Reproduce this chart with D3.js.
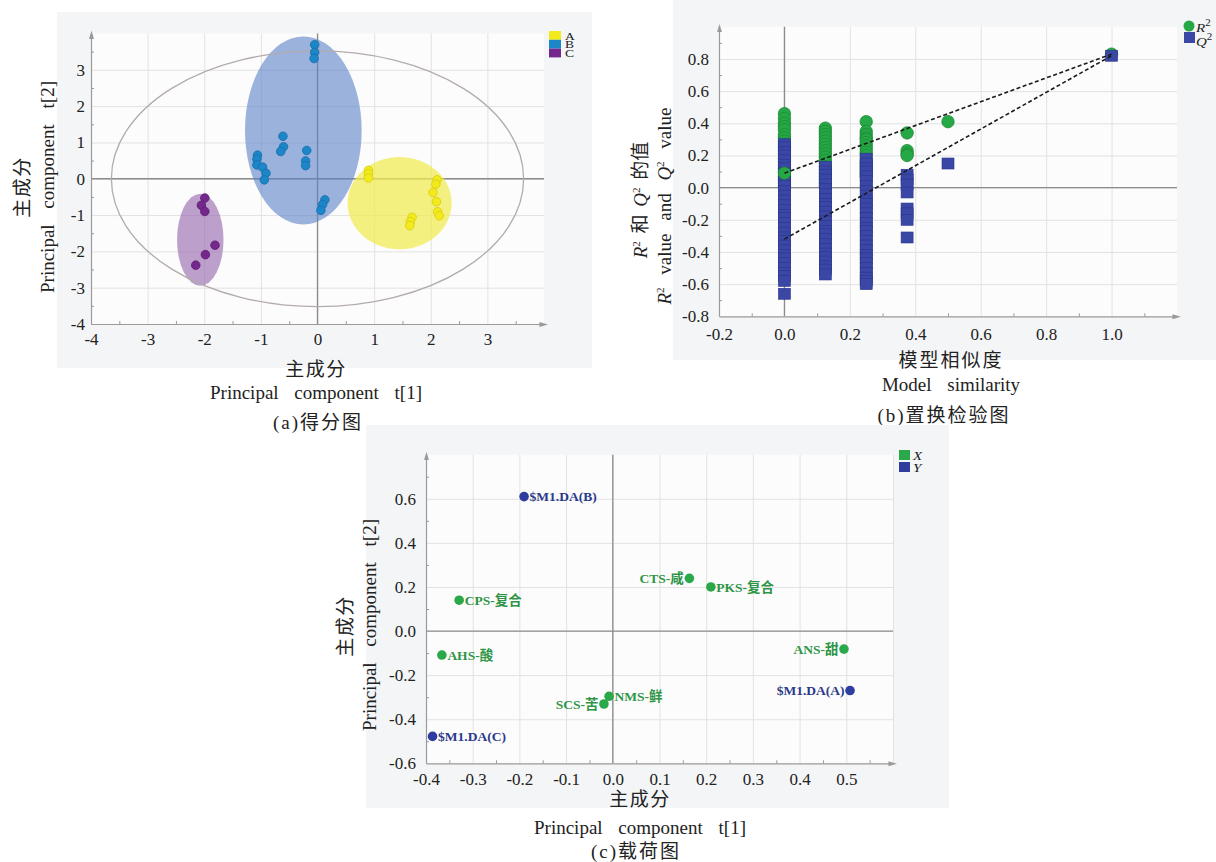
<!DOCTYPE html>
<html lang="zh">
<head>
<meta charset="UTF-8">
<title>得分图 / 置换检验图 / 载荷图</title>
<script src="https://d3js.org/d3.v7.min.js"></script>
<style>
    body { margin: 0; background: #fff; }
    svg text { font-family: "Liberation Serif", "Noto Sans CJK SC", serif; fill: #222; }
    .axis .tick text { font-size: 17px; font-family: "Liberation Serif", serif; }
    .axis .domain { stroke: #9a9a9a; stroke-width: 1.2; }
    .grid line { stroke: #e2e2e2; }
    .grid .domain { display: none; }
    .minor line { stroke: #9a9a9a; }
    .minor .domain { display: none; }
    .title { font-size: 19px; word-spacing: 11px; }
    .lbl { font-size: 13.5px; font-weight: bold; }
</style>
</head>
<body>
<svg id="chart"></svg>
<script>
// ---- (a) 得分图 data ----
const groups = ["A", "B", "C"];
const scoresA = [[0.90, 0.23], [0.90, 0.14], [0.90, 0.02], [2.11, -0.03], [2.09, -0.15], [2.04, -0.38],
                 [2.10, -0.63], [2.12, -0.91], [2.15, -1.02], [1.67, -1.06], [1.64, -1.18], [1.63, -1.29]];
const scoresB = [[-0.05, 3.69], [-0.05, 3.48], [-0.06, 3.31], [-0.61, 1.17], [-0.60, 0.88], [-0.65, 0.75],
                 [-0.19, 0.78], [-0.21, 0.49], [-0.21, 0.36], [-1.06, 0.65], [-1.07, 0.54], [-1.07, 0.38],
                 [-0.97, 0.32], [-0.91, 0.15], [-0.94, -0.03], [0.13, -0.58], [0.09, -0.71], [0.06, -0.87]];
const scoresC = [[-1.99, -0.53], [-2.05, -0.73], [-1.99, -0.90], [-1.81, -1.83], [-1.98, -2.09], [-2.15, -2.38]];
// group ellipses: [cx, cy, rx, ry] in score units
const groupEllipses = [[1.45, -0.67, 0.92, 1.27], [-0.25, 1.33, 1.03, 2.59], [-2.07, -1.68, 0.41, 1.27]];
const hotelling = [0, 0, 3.64, 3.52];
const scoreTicks = [-4, -3, -2, -1, 0, 1, 2, 3];

// ---- (b) 置换检验图 data ----
const similarity = [0, 0.125, 0.25, 0.375, 0.5, 1.0];
const r2Perm = [
    [0.46, 0.43, 0.40, 0.38, 0.36, 0.33, 0.31, 0.29, 0.27, 0.25, 0.23, 0.21, 0.18, 0.16, 0.14, 0.12, 0.10, 0.07, 0.05, 0.03, 0.01],
    [0.37, 0.35, 0.33, 0.31, 0.29, 0.27, 0.25, 0.23, 0.21, 0.19, 0.17, 0.15, 0.13, 0.11, 0.09, 0.07, 0.05, 0.03, 0.01],
    [0.41, 0.35, 0.33, 0.31, 0.30, 0.28, 0.26, 0.24, 0.22, 0.20, 0.17, 0.15, 0.13, 0.11, 0.09, 0.07],
    [0.34, 0.23, 0.21, 0.20],
    [0.41],
    [0.83]
];
const q2Perm = [
    [0.27, 0.25, 0.22, 0.20, 0.17, 0.14, 0.12, 0.09, 0.06, 0.03, 0.01, -0.02, -0.05, -0.08, -0.11, -0.14, -0.17,
     -0.19, -0.22, -0.25, -0.28, -0.31, -0.33, -0.36, -0.39, -0.42, -0.44, -0.47, -0.50, -0.53, -0.55, -0.58, -0.66],
    [0.13, 0.10, 0.08, 0.05, 0.02, -0.01, -0.04, -0.07, -0.10, -0.12, -0.15, -0.18, -0.21, -0.24, -0.27, -0.29,
     -0.32, -0.35, -0.38, -0.41, -0.43, -0.46, -0.49, -0.51, -0.54],
    [0.18, 0.15, 0.12, 0.10, 0.07, 0.04, 0.01, -0.02, -0.05, -0.08, -0.10, -0.13, -0.16, -0.19, -0.22, -0.25,
     -0.27, -0.30, -0.33, -0.36, -0.39, -0.42, -0.44, -0.47, -0.50, -0.53, -0.56, -0.58, -0.60],
    [0.08, 0.05, 0.02, -0.03, -0.13, -0.16, -0.20, -0.31],
    [0.15],
    [0.82]
];
const r2Intercept = 0.09, q2Intercept = -0.32;
const simTicks = [-0.2, 0, 0.2, 0.4, 0.6, 0.8, 1.0];
const valueTicks = [-0.8, -0.6, -0.4, -0.2, 0, 0.2, 0.4, 0.6, 0.8];

// ---- (c) 载荷图 data ----
const xNames = ["CPS-复合", "AHS-酸", "CTS-咸", "PKS-复合", "ANS-甜", "NMS-鲜", "SCS-苦"];
const xLoadT1 = [-0.329, -0.366, 0.164, 0.210, 0.495, -0.008, -0.019];
const xLoadT2 = [0.140, -0.109, 0.239, 0.200, -0.082, -0.296, -0.331];
const yNames = ["$M1.DA(A)", "$M1.DA(B)", "$M1.DA(C)"];
const yLoadT1 = [0.508, -0.190, -0.386];
const yLoadT2 = [-0.270, 0.610, -0.478];
const loadTicksX = [-0.4, -0.3, -0.2, -0.1, 0, 0.1, 0.2, 0.3, 0.4, 0.5];
const loadTicksY = [-0.6, -0.4, -0.2, 0, 0.2, 0.4, 0.6];

// ---- drawing ----
const svg = d3.select("#chart").attr("width", 1216).attr("height", 862);
svg.append("rect").attr("width", 1216).attr("height", 862).attr("fill", "#fff");

svg.append("defs").append("marker")
    .attr("id", "arrow").attr("viewBox", "0 0 10 10")
    .attr("refX", 6).attr("refY", 5)
    .attr("markerWidth", 7).attr("markerHeight", 7).attr("orient", "auto")
    .append("path").attr("d", "M0,2L10,5L0,8Z").attr("fill", "#9a9a9a");

const fmt1 = d => d.toFixed(1);
const round = v => Math.round(v * 1000) / 1000;
const halves = (ticks, step, last) => {
    // minor tick positions between the major ticks
    let out = [];
    for (let v = ticks[0] + step / 2; v < last; v += step) out.push(round(v));
    return out;
};

function frame(x, y, c) {
    const [x0, x1] = x.range(), [y0, y1] = y.range();
    svg.append("rect").attr("x", x0).attr("y", y1)
        .attr("width", x1 - x0).attr("height", y0 - y1).attr("fill", "#fcfcfc");

    svg.append("g").attr("class", "grid").attr("transform", `translate(0,${y0})`)
        .call(d3.axisBottom(x).tickValues(c.xGrid).tickSize(-(y0 - y1)).tickFormat(""));
    svg.append("g").attr("class", "grid").attr("transform", `translate(${x0},0)`)
        .call(d3.axisLeft(y).tickValues(c.yGrid).tickSize(-(x1 - x0)).tickFormat(""));

    // zero lines
    svg.append("line").attr("x1", x(0)).attr("x2", x(0)).attr("y1", y0).attr("y2", y1)
        .attr("stroke", "#8c8c8c").attr("stroke-width", 1.3);
    svg.append("line").attr("x1", x0).attr("x2", x1).attr("y1", y(0)).attr("y2", y(0))
        .attr("stroke", "#8c8c8c").attr("stroke-width", 1.3);

    svg.append("g").attr("class", "minor").attr("transform", `translate(0,${y0})`)
        .call(d3.axisBottom(x).tickValues(c.xMinor).tickSize(-3).tickFormat(""));
    svg.append("g").attr("class", "minor").attr("transform", `translate(${x0},0)`)
        .call(d3.axisLeft(y).tickValues(c.yMinor).tickSize(-3).tickFormat(""));

    const xa = svg.append("g").attr("class", "axis").attr("transform", `translate(0,${y0})`)
        .call(d3.axisBottom(x).tickValues(c.xTicks).tickSize(0).tickSizeOuter(0)
            .tickPadding(c.xPad).tickFormat(c.fmt));
    const ya = svg.append("g").attr("class", "axis").attr("transform", `translate(${x0},0)`)
        .call(d3.axisLeft(y).tickValues(c.yTicks).tickSize(0).tickSizeOuter(0)
            .tickPadding(c.yPad).tickFormat(c.fmt));
    xa.attr("font-family", null);
    ya.attr("font-family", null);
    xa.selectAll(".domain").attr("marker-end", "url(#arrow)");
    ya.selectAll(".domain").attr("marker-end", "url(#arrow)");
}

function label(x, y, parts, opt) {
    // parts: [text, style] where style is "" | "i" | "sup"
    const t = svg.append("text").attr("class", opt.cls || "title")
        .attr("text-anchor", opt.anchor || "middle")
        .attr("transform", `translate(${x},${y})` + (opt.rotate ? " rotate(-90)" : "") +
            (opt.sy ? ` scale(1,${opt.sy})` : ""));
    if (opt.size) t.style("font-size", opt.size + "px");
    if (opt.ls !== undefined) t.style("letter-spacing", opt.ls + "px");
    if (opt.ws !== undefined) t.style("word-spacing", opt.ws + "px");
    let up = false;
    parts.forEach(([s, st]) => {
        const ts = t.append("tspan").text(s);
        if (st === "i") ts.attr("font-style", "italic");
        if (st === "sup") { ts.attr("dy", -7).style("font-size", "11px"); up = true; }
        else if (up) { ts.attr("dy", 7); up = false; }
    });
    return t;
}

// ===== (a) =====
{
    svg.append("rect").attr("x", 57).attr("y", 12).attr("width", 535).attr("height", 356).attr("fill", "#f4f5f6");
    const x = d3.scaleLinear().domain([-4, 4]).range([91, 544]);
    const y = d3.scaleLinear().domain([-4, 4]).range([324, 33.5]);
    frame(x, y, {
        xTicks: scoreTicks, yTicks: scoreTicks,
        xGrid: scoreTicks.slice(1), yGrid: scoreTicks.slice(1),
        xMinor: halves(scoreTicks, 1, 4), yMinor: halves(scoreTicks, 1, 4),
        xPad: 9, yPad: 6, fmt: d => String(d)
    });

    const fills = ["#f1ec4f", "#5a80c6", "#9566ad"];
    const fillOp = [0.72, 0.6, 0.62];
    groupEllipses.forEach((e, i) => {
        svg.append("ellipse")
            .attr("cx", x(e[0])).attr("cy", y(e[1]))
            .attr("rx", x(e[0] + e[2]) - x(e[0])).attr("ry", y(e[1]) - y(e[1] + e[3]))
            .attr("fill", fills[i]).attr("fill-opacity", fillOp[i]);
    });
    svg.append("ellipse")
        .attr("cx", x(hotelling[0])).attr("cy", y(hotelling[1]))
        .attr("rx", x(hotelling[2]) - x(0)).attr("ry", y(0) - y(hotelling[3]))
        .attr("fill", "none").attr("stroke", "#b3abab").attr("stroke-width", 1.3);

    const ptFill = ["#f2ea1d", "#1c86c8", "#74288c"];
    const ptStroke = ["#d6cc12", "#146fa9", "#5c1c72"];
    [scoresA, scoresB, scoresC].forEach((pts, i) => {
        svg.append("g").selectAll("circle").data(pts).enter().append("circle")
            .attr("cx", d => x(d[0])).attr("cy", d => y(d[1])).attr("r", 4.3)
            .attr("fill", ptFill[i]).attr("stroke", ptStroke[i]).attr("stroke-width", 0.8);
    });

    // legend (letters squeezed vertically, as in the original)
    groups.forEach((g, i) => {
        svg.append("rect").attr("x", 549).attr("y", 31 + i * 8.8).attr("width", 12).attr("height", 8.8)
            .attr("fill", ptFill[i]);
        label(565, 39.5 + i * 8.8, [[g, ""]], { anchor: "start", size: 13.5, sy: 0.7 });
    });

    label(29, 187, [["主成分", ""]], { rotate: true, size: 19, ls: 1.5 });
    label(54, 187, [["Principal component t[2]", ""]], { rotate: true });
    label(316, 376, [["主成分", ""]], { size: 19, ls: 1.5 });
    label(316, 399, [["Principal component t[1]", ""]], {});
    label(318, 429, [["(a)得分图", ""]], { size: 19, ls: 2 });
}

// ===== (b) =====
{
    svg.append("rect").attr("x", 673).attr("y", 0).attr("width", 543).attr("height", 360).attr("fill", "#f4f5f6");
    const x = d3.scaleLinear().domain([-0.2, 1.2]).range([719, 1177]);
    const y = d3.scaleLinear().domain([-0.8, 1.0]).range([316.3, 26.8]);
    frame(x, y, {
        xTicks: simTicks, yTicks: valueTicks,
        xGrid: simTicks.slice(1), yGrid: valueTicks.slice(1),
        xMinor: halves(simTicks, 0.2, 1.2), yMinor: halves(valueTicks, 0.2, 1.0),
        xPad: 12, yPad: 10, fmt: fmt1
    });

    const r2Pts = [], q2Pts = [];
    similarity.forEach((s, i) => {
        r2Perm[i].forEach(v => r2Pts.push([s, v]));
        q2Perm[i].forEach(v => q2Pts.push([s, v]));
    });
    const green = "#27a846", greenS = "#1c8a36", blue = "#3a47a4", blueS = "#2a358e";
    svg.append("g").selectAll("circle").data(r2Pts).enter().append("circle")
        .attr("cx", d => x(d[0])).attr("cy", d => y(d[1])).attr("r", 6.2)
        .attr("fill", green).attr("stroke", greenS).attr("stroke-width", 0.8);
    svg.append("g").selectAll("rect").data(q2Pts).enter().append("rect")
        .attr("x", d => x(d[0]) - 6).attr("y", d => y(d[1]) - 5.5).attr("width", 12).attr("height", 11)
        .attr("fill", blue).attr("stroke", blueS).attr("stroke-width", 0.6);
    svg.append("circle").attr("cx", x(0)).attr("cy", y(r2Intercept)).attr("r", 6.2)
        .attr("fill", green).attr("stroke", greenS).attr("stroke-width", 0.8);

    const line = d3.line().x(d => x(d[0])).y(d => y(d[1]));
    const last = similarity.length - 1;
    [[[0, r2Intercept], [similarity[last], r2Perm[last][0]]],
     [[0, q2Intercept], [similarity[last], q2Perm[last][0]]]].forEach(l => {
        svg.append("path").attr("d", line(l)).attr("fill", "none")
            .attr("stroke", "#1a1a1a").attr("stroke-width", 1.6).attr("stroke-dasharray", "4,2.5");
    });

    // legend
    svg.append("circle").attr("cx", 1189).attr("cy", 26).attr("r", 5.5).attr("fill", green);
    svg.append("rect").attr("x", 1184).attr("y", 32).attr("width", 11).attr("height", 11).attr("fill", blue);
    label(1196, 31.5, [["R", "i"], ["2", "sup"]], { anchor: "start", size: 15, sy: 0.85 });
    label(1196, 45.5, [["Q", "i"], ["2", "sup"]], { anchor: "start", size: 15, sy: 0.85 });

    label(647, 200, [["R", "i"], ["2", "sup"], [" 和 ", ""], ["Q", "i"], ["2", "sup"], [" 的值", ""]],
        { rotate: true, size: 19, ws: 3 });
    label(671, 206, [["R", "i"], ["2", "sup"], [" value and ", ""], ["Q", "i"], ["2", "sup"], [" value", ""]],
        { rotate: true, ws: 8 });
    label(951, 367, [["模型相似度", ""]], { size: 19, ls: 2 });
    label(951, 391, [["Model similarity", ""]], {});
    label(944, 422, [["(b)置换检验图", ""]], { size: 19, ls: 2 });
}

// ===== (c) =====
{
    svg.append("rect").attr("x", 366).attr("y", 425).attr("width", 583).attr("height", 383).attr("fill", "#f4f5f6");
    const x = d3.scaleLinear().domain([-0.4, 0.6]).range([426, 893]);
    const y = d3.scaleLinear().domain([-0.6, 0.8]).range([763.3, 454.7]);
    frame(x, y, {
        xTicks: loadTicksX, yTicks: loadTicksY,
        xGrid: loadTicksX.slice(1).concat([0.6]), yGrid: loadTicksY.slice(1),
        xMinor: halves(loadTicksX, 0.1, 0.6), yMinor: halves(loadTicksY, 0.2, 0.8),
        xPad: 10, yPad: 10, fmt: fmt1
    });

    const leftSide = new Set(["CTS-咸", "ANS-甜", "SCS-苦", "$M1.DA(A)"]);
    const sets = [
        { names: xNames, t1: xLoadT1, t2: xLoadT2, fill: "#2ba84a", text: "#2f9546" },
        { names: yNames, t1: yLoadT1, t2: yLoadT2, fill: "#2f3d9e", text: "#2b3a8a" }
    ];
    sets.forEach(s => {
        const data = s.names.map((n, i) => ({ n, a: s.t1[i], b: s.t2[i] }));
        const g = svg.append("g").selectAll("g").data(data).enter().append("g");
        g.append("circle").attr("cx", d => x(d.a)).attr("cy", d => y(d.b)).attr("r", 4.8).attr("fill", s.fill);
        g.append("text").attr("class", "lbl")
            .attr("x", d => x(d.a) + (leftSide.has(d.n) ? -5.5 : 5.5)).attr("y", d => y(d.b))
            .attr("dy", "0.36em").attr("text-anchor", d => leftSide.has(d.n) ? "end" : "start")
            .style("fill", s.text).text(d => d.n);
    });

    // legend
    svg.append("rect").attr("x", 899).attr("y", 450).attr("width", 11).attr("height", 10).attr("fill", "#2ba84a");
    svg.append("rect").attr("x", 899).attr("y", 462).attr("width", 11).attr("height", 10).attr("fill", "#2f3d9e");
    label(913, 459.5, [["X", "i"]], { anchor: "start", size: 15, sy: 0.8 });
    label(913, 471.5, [["Y", "i"]], { anchor: "start", size: 15, sy: 0.8 });

    label(352, 626, [["主成分", ""]], { rotate: true, size: 19, ls: 1.5 });
    label(376, 625, [["Principal component t[2]", ""]], { rotate: true });
    label(640, 806, [["主成分", ""]], { size: 19, ls: 1.5 });
    label(640, 834, [["Principal component t[1]", ""]], {});
    label(636, 858, [["(c)载荷图", ""]], { size: 19, ls: 2 });
}
</script>
</body>
</html>
